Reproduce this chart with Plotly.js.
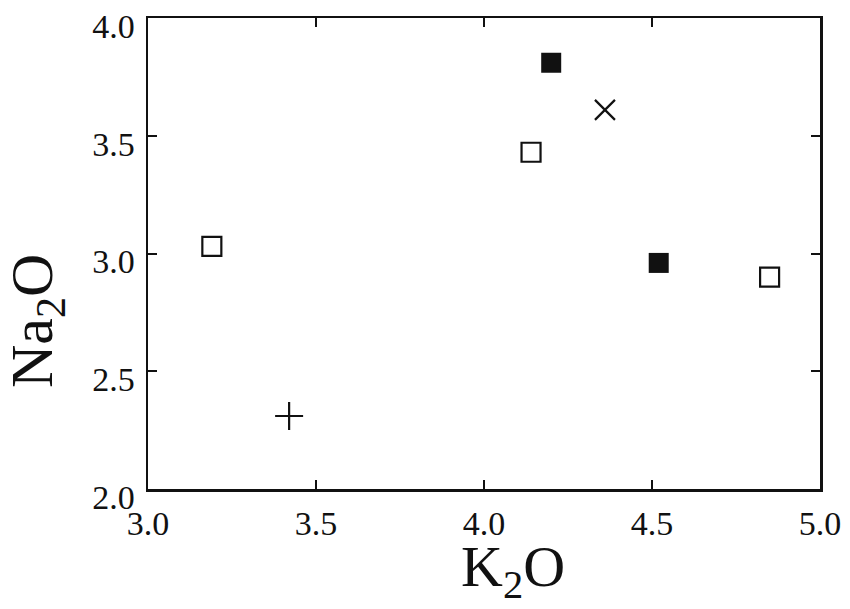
<!DOCTYPE html>
<html>
<head>
<meta charset="utf-8">
<script src="https://cdn.plot.ly/plotly-3.0.1.min.js"></script>
<style>html,body{margin:0;padding:0;background:#fff;}#chart{width:850px;height:609px;}</style>
</head>
<body>
<div id="chart"></div>
<script>
// Data (K2O vs Na2O)
const openSqK2O = [3.19, 4.14, 4.85];
const openSqNa2O = [3.03, 3.43, 2.90];
const filledSqK2O = [4.20, 4.52];
const filledSqNa2O = [3.81, 2.96];
const crossK2O = [4.36];
const crossNa2O = [3.61];
const plusK2O = [3.42];
const plusNa2O = [2.31];
const xTicks = [3.0, 3.5, 4.0, 4.5, 5.0];
const xTickLabels = ["3.0", "3.5", "4.0", "4.5", "5.0"];
const yTicks = [2.0, 2.5, 3.0, 3.5, 4.0];
const yTickLabels = ["2.0", "2.5", "3.0", "3.5", "4.0"];

const font = "'Liberation Serif', 'Times New Roman', serif";

const traces = [
  {x: openSqK2O, y: openSqNa2O, mode: "markers", type: "scatter", name: "open square",
   marker: {symbol: "square-open", size: 19, color: "#111", line: {width: 2.2, color: "#111"}}},
  {x: filledSqK2O, y: filledSqNa2O, mode: "markers", type: "scatter", name: "filled square",
   marker: {symbol: "square", size: 20, color: "#111", line: {width: 0}}},
  {x: crossK2O, y: crossNa2O, mode: "markers", type: "scatter", name: "cross",
   marker: {symbol: "x-thin-open", size: 20, color: "#111", line: {width: 2.2, color: "#111"}}},
  {x: plusK2O, y: plusNa2O, mode: "markers", type: "scatter", name: "plus",
   marker: {symbol: "cross-thin-open", size: 20, color: "#111", line: {width: 2.2, color: "#111"}}}
];

const axisCommon = {
  showgrid: false, zeroline: false, showline: true, linecolor: "#111", linewidth: 2.5,
  mirror: "ticks", ticks: "inside", ticklen: 9, tickwidth: 2, tickcolor: "#111",
  tickfont: {family: font, size: 34, color: "#111"}
};

const layout = {
  width: 850, height: 609,
  margin: {l: 148, r: 30, t: 18, b: 120},
  paper_bgcolor: "#fff", plot_bgcolor: "#fff",
  showlegend: false,
  font: {family: font, color: "#111"},
  xaxis: Object.assign({}, axisCommon, {
    range: [3.0, 5.0], tickvals: xTicks, ticktext: xTickLabels, ticklabelstandoff: 3
  }),
  yaxis: Object.assign({}, axisCommon, {
    range: [2.0, 4.0], tickvals: yTicks, ticktext: yTickLabels, ticklabelstandoff: 4,
    ticklabelshift: 8
  }),
  annotations: [
    {text: "K<sub>2</sub>O", xref: "paper", yref: "paper", x: 0.543, y: -0.174,
     xanchor: "center", yanchor: "middle", showarrow: false,
     font: {family: font, size: 58, color: "#111"}},
    {text: "Na<sub>2</sub>O", xref: "paper", yref: "paper", x: -0.165, y: 0.357,
     xanchor: "center", yanchor: "middle", showarrow: false, textangle: -90,
     font: {family: font, size: 60, color: "#111"}}
  ]
};

Plotly.newPlot("chart", traces, layout, {displayModeBar: false, staticPlot: true});
</script>
</body>
</html>
